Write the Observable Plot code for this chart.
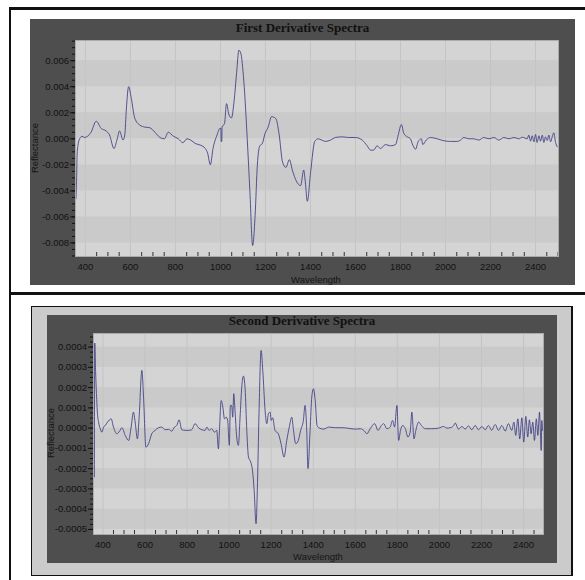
<!DOCTYPE html>
<html><head><meta charset="utf-8">
<script src="https://cdn.jsdelivr.net/npm/d3@7"></script>
<script src="https://cdn.jsdelivr.net/npm/@observablehq/plot@0.6"></script>
<style>
body{margin:0;background:#fff;}
#root{position:relative;width:585px;height:580px;overflow:hidden;font-family:"Liberation Sans",Arial,sans-serif;}
.blk{position:absolute;background:#111;}
.frame{position:absolute;background:#4e4e4e;}
.frame svg{position:absolute;left:0;top:0;}
.title{position:absolute;font-family:"Liberation Serif","Times New Roman",serif;font-weight:bold;font-size:13px;line-height:13px;color:#111;text-align:center;white-space:nowrap;}
.lab{position:absolute;font-size:9.5px;line-height:9.5px;color:#151515;white-space:nowrap;}
.rot{transform:translate(-50%,-50%) rotate(-90deg);}
</style></head><body>
<div id="root">
  <div class="blk" style="left:9px;top:7px;width:576px;height:3px"></div>
  <div class="blk" style="left:9px;top:7px;width:2px;height:573px"></div>
  <div class="blk" style="left:9px;top:292px;width:576px;height:3px"></div>
  <div class="frame" id="f1" style="left:30px;top:19px;width:545px;height:266px"></div>
  <div class="title" style="left:30px;top:21px;width:545px">First Derivative Spectra</div>
  <div class="lab rot" style="left:35px;top:148px">Reflectance</div>
  <div class="lab" style="left:316px;top:274.5px;transform:translateX(-50%)">Wavelength</div>
  <div style="position:absolute;left:31px;top:306px;width:539px;height:268px;background:#cbcbcb;border:1px solid #111;border-right:2px solid #111"></div>
  <div class="frame" id="f2" style="left:47px;top:315px;width:510px;height:248px"></div>
  <div class="title" style="left:47px;top:314px;width:510px">Second Derivative Spectra</div>
  <div class="lab rot" style="left:51px;top:433px">Reflectance</div>
  <div class="lab" style="left:318px;top:551.5px;transform:translateX(-50%)">Wavelength</div>
</div>
<script>
// ---- First derivative spectrum ----
const wave1 = [358,361,363,367,372,378,385,395,410,425,448,470,492,507,527,540,552,567,575,582,592,604,619,642,664,686,709,731,751,768,791,813,833,851,868,888,913,933,943,955,967,985,998,1002,1003,1006,1007,1018,1027,1037,1049,1060,1072,1082,1090,1104,1119,1131,1143,1154,1164,1175,1186,1198,1212,1227,1246,1261,1276,1291,1306,1321,1336,1356,1370,1377,1386,1401,1419,1434,1450,1467,1489,1511,1541,1570,1600,1630,1652,1667,1681,1696,1711,1733,1756,1778,1790,1804,1815,1830,1844,1855,1867,1879,1893,1899,1914,1933,1963,1993,2022,2052,2067,2081,2104,2126,2148,2170,2193,2215,2237,2259,2282,2304,2326,2341,2363,2370,2378,2385,2393,2400,2407,2415,2422,2430,2437,2444,2452,2459,2467,2474,2481,2489,2496];
const deriv1 = [-0.0046,-0.0030,-0.0013,-0.0005,-0.0001,0.0001,0.0002,0.0001,0.0002,0.0005,0.00135,0.0008,0.0006,0.0003,-0.00075,-0.0001,0.0006,-0.0001,0.0003,0.0023,0.0040,0.0031,0.0016,0.00105,0.0009,0.00085,0.0005,0.0001,0.0000,0.0005,0.0002,0.0000,-0.0003,0.0000,-0.0001,-0.00036,-0.0005,-0.00075,-0.0011,-0.0020,-0.00075,0.0003,0.0008,0.0008,-0.0002,-0.0002,0.0009,0.00117,0.0027,0.0019,0.0016,0.0028,0.0051,0.0068,0.0066,0.0044,0.0000,-0.0041,-0.0082,-0.0059,-0.0020,-0.00054,-0.00036,0.0004,0.0009,0.0017,0.00156,0.0003,-0.0018,-0.0022,-0.0016,-0.0025,-0.0032,-0.0036,-0.0024,-0.0033,-0.0048,-0.0025,-0.0002,0.0000,-0.0001,-0.0002,-0.0001,0.0001,0.00015,0.0001,0.0001,-0.0001,-0.00054,-0.00087,-0.00087,-0.00054,-0.00075,-0.00044,-0.00054,-0.00044,0.0003,0.0011,0.0004,0.00015,0.0000,-0.0005,-0.0008,-0.0002,0.0000,-0.00044,-0.0001,0.0001,0.0000,-0.00015,-0.0002,-0.0002,-0.0001,0.0001,0.0000,0.0000,-0.0001,0.0001,0.0000,0.0001,-0.0001,0.0001,0.0000,0.0001,0.0000,0.00012,0.0000,0.00028,-0.00018,0.00023,-0.00023,0.00033,-0.00028,0.00023,-0.00018,0.00028,-0.00028,0.00015,-0.00013,0.00028,-0.00023,0.00015,0.00046,-0.00028,-0.0006];

// ---- Second derivative spectrum ----
const wave2 = [359,361,365,369,374,379,387,395,403,411,422,439,450,466,479,490,506,522,534,545,553,564,572,585,593,604,617,632,648,664,680,696,712,727,740,751,762,775,791,807,822,838,854,870,886,894,905,917,930,941,949,954,962,970,978,986,993,1001,1006,1012,1017,1022,1028,1036,1044,1052,1060,1068,1076,1084,1092,1103,1111,1119,1128,1134,1142,1152,1160,1171,1179,1187,1195,1200,1207,1218,1234,1247,1261,1274,1286,1298,1306,1317,1329,1340,1353,1361,1369,1375,1385,1393,1401,1410,1418,1426,1450,1473,1505,1537,1568,1600,1624,1644,1655,1671,1692,1708,1724,1735,1750,1766,1777,1787,1798,1806,1815,1825,1838,1850,1861,1869,1879,1888,1901,1914,1933,1964,1996,2020,2036,2051,2067,2075,2091,2107,2123,2138,2154,2170,2186,2202,2218,2233,2249,2265,2281,2297,2313,2328,2344,2354,2363,2373,2382,2392,2401,2411,2420,2428,2436,2444,2452,2461,2468,2476,2480,2484,2487,2490];
const deriv2 = [-0.00024,0.00042,0.00028,0.00017,0.00007,0.00003,-0.000003,-0.00002,0.000005,0.000013,0.00003,0.000046,0.000005,-0.000028,-0.000015,0.000002,-0.000036,-0.000061,0.000005,0.000079,0.00003,-0.000053,0.000054,0.000285,0.000153,-0.000094,-0.000077,-0.000028,-0.000011,0.000002,0.000005,-0.000008,-0.000006,-0.000015,0.000005,0.000013,0.000041,-0.000008,-0.000011,-0.000011,-0.000008,0.000022,0.000002,-0.000008,-0.000011,0.000005,-0.000011,-0.000003,-0.00002,-0.000011,-0.000102,-0.000011,0.000136,0.000104,0.000046,0.000054,0.000038,-0.000085,0.000112,0.000112,0.000054,0.00017,0.000087,-0.000044,-0.000085,0.000054,0.000202,0.000257,0.000194,-0.000011,-0.000143,-0.000168,-0.000209,-0.000307,-0.000472,-0.000307,0.000071,0.000383,0.000285,0.000087,0.000022,0.000071,0.000079,0.000038,0.000051,-0.000011,-0.000028,-0.000077,-0.000143,-0.000061,0.000005,0.000054,-0.000011,-0.000077,-0.000061,-0.000011,0.000038,0.000112,-0.000011,-0.0002,-0.000011,0.000153,0.000194,0.000128,0.000013,0.000002,-0.000005,0.000005,0.000002,0.000002,-0.000001,-0.000005,-0.000003,-0.000015,-0.000028,-0.000003,0.000022,-0.000011,0.000013,0.000022,-0.000003,0.000005,0.000038,0.000005,0.000112,-0.000061,-0.000011,0.000013,-0.000003,-0.000044,-0.00002,0.000079,-0.000053,-0.000011,0.00003,0.000013,-0.000003,-0.000003,0.0,0.000008,0.0,0.000002,0.000011,0.000025,-0.000005,0.000008,-0.000005,0.000011,-0.000008,0.000013,-0.000008,0.000008,-0.000008,0.000013,-0.000011,0.000018,-0.000011,0.000013,-0.000015,0.000022,-0.000011,0.00003,-0.000036,0.000046,-0.000053,0.000051,-0.000069,0.000058,-0.000044,0.000041,-0.000028,0.00003,-0.000061,0.000046,-0.000036,0.000079,-0.000011,-0.00011,0.000038,-0.000011];

// ---- Axis ticks ----
const xMajorTicks = [400,600,800,1000,1200,1400,1600,1800,2000,2200,2400];
const yMajor1 = [-0.008,-0.006,-0.004,-0.002,0,0.002,0.004,0.006];
const yMajor2 = [-0.0005,-0.0004,-0.0003,-0.0002,-0.0001,0,0.0001,0.0002,0.0003,0.0004];

function panel(el, opts) {
  const {wave, val, width, height, mt, mr, mb, ml, xDomain, yDomain, yMajor, yMinorStep, digits, xPad} = opts;
  const pts = wave.map((w, i) => ({w, v: val[i]}));
  const bands = [];
  for (let i = 0; i + 1 < yMajor.length; i += 2) bands.push({y1: yMajor[i], y2: yMajor[i + 1]});
  const xMinor = d3.range(350, 2501, 50).filter(d => d % 200 !== 0 && d > xDomain[0] && d < xDomain[1]);
  const yMinor = d3.range(Math.ceil(yDomain[0] / yMinorStep), Math.floor(yDomain[1] / yMinorStep) + 1).map(k => k * yMinorStep);
  const plotH = height - mt - mb;
  const svg = Plot.plot({
    width, height, marginTop: mt, marginRight: mr, marginBottom: mb, marginLeft: ml,
    x: {domain: xDomain, label: null},
    y: {domain: yDomain, label: null},
    style: {background: "transparent", color: "#121212", fontFamily: "Liberation Sans, Arial, sans-serif", fontSize: "9.5px", overflow: "visible"},
    marks: [
      Plot.frame({fill: "#d4d4d4"}),
      Plot.rect(bands, {x1: xDomain[0], x2: xDomain[1], y1: "y1", y2: "y2", fill: "#cacaca"}),
      Plot.ruleX(xMajorTicks, {stroke: "#c4c4c4", strokeWidth: 1}),
      Plot.ruleX(xMinor, {insetTop: plotH - 4, stroke: "#333", strokeWidth: 1}),
      Plot.line(pts, {x: "w", y: "v", stroke: "#3c3c84", strokeWidth: 1, strokeOpacity: 0.85, curve: "monotone-x", clip: true}),
      Plot.frame({stroke: "#ababab", strokeWidth: 1}),
      Plot.axisY(yMajor, {tickSize: 5, tickPadding: 1.5, tickFormat: d => d.toFixed(digits)}),
      Plot.axisY(yMinor, {tickSize: 3, tickFormat: () => ""}),
      Plot.axisX(xMajorTicks, {tickSize: 0, tickPadding: xPad, tickFormat: d => String(d)})
    ]
  });
  document.getElementById(el).appendChild(svg);
}

panel("f1", {wave: wave1, val: deriv1, width: 545, height: 266, mt: 21, mr: 17, mb: 29, ml: 45,
  xDomain: [356, 2502], yDomain: [-0.00904, 0.00755], yMajor: yMajor1, yMinorStep: 0.0005, digits: 3, xPad: 7});
panel("f2", {wave: wave2, val: deriv2, width: 510, height: 248, mt: 18, mr: 14, mb: 29, ml: 46,
  xDomain: [355, 2495], yDomain: [-0.000525, 0.000467], yMajor: yMajor2, yMinorStep: 0.000025, digits: 4, xPad: 6.5});
</script>
</body></html>
